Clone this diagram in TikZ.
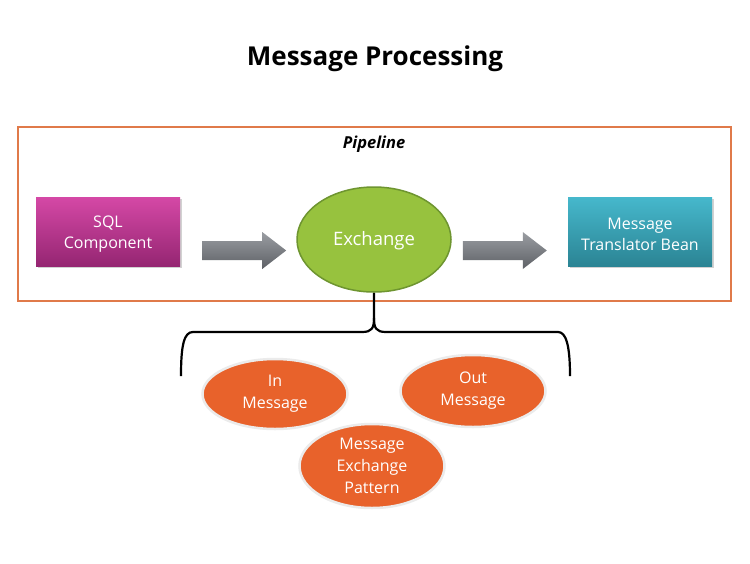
\documentclass[tikz,border=0pt]{standalone}
\usepackage{fontspec}
\setmainfont{Open Sans}
\usetikzlibrary{shapes.geometric,shadows}
\definecolor{pipe}{HTML}{E07A4A}
\definecolor{sqltop}{HTML}{D548A6}
\definecolor{sqlbot}{HTML}{952672}
\definecolor{tealtop}{HTML}{46B8CC}
\definecolor{tealbot}{HTML}{2B8494}
\definecolor{exfill}{HTML}{97C23E}
\definecolor{exdraw}{HTML}{6E9530}
\definecolor{orfill}{HTML}{E8622B}
\definecolor{artop}{HTML}{9A9DA2}
\definecolor{arbot}{HTML}{5E6166}
\tikzset{
  x=1pt,y=-1pt,
  boxnode/.style={rectangle,minimum width=144pt,minimum height=69pt,text=white,
    font=\fontsize{16}{21}\selectfont,align=center,inner sep=0pt,
    drop shadow={shadow xshift=1.5pt,shadow yshift=-2pt,opacity=0.35}},
  ovalnode/.style={ellipse,fill=orfill,draw=black!8,line width=2.5pt,text=white,
    font=\fontsize{16}{22}\selectfont,align=center,inner sep=0pt,
    minimum width=145pt},
  blockarrow/.style={top color=artop,bottom color=arbot,draw=none},
  bracestyle/.style={draw=black,line width=2.2pt}
}
\begin{document}
\begin{tikzpicture}
\useasboundingbox (0,0) rectangle (750,563);
\fill[white] (0,0) rectangle (750,563);
\node[font=\fontsize{26}{30}\selectfont\bfseries] (title) at (375,59) {Message Processing};
\node[draw=pipe,line width=2pt,minimum width=713pt,minimum height=174pt,inner sep=0pt] (pipeline) at (374.5,214) {};
\node[font=\fontsize{16.5}{20}\selectfont\bfseries\itshape] (plabel) at (374,144.5) {Pipeline};
\node[boxnode,top color=sqltop,bottom color=sqlbot] (sql) at (108,231.5) {};
\node[text=white,font=\fontsize{16}{21}\selectfont,align=center] (sqltext) at (108,234) {SQL\\Component};
\node[boxnode,top color=tealtop,bottom color=tealbot] (bean) at (640,231.5) {};
\node[text=white,font=\fontsize{16}{21}\selectfont,align=center] (beantext) at (640,234) {Message\\Translator Bean};
\node[ellipse,fill=exfill,draw=exdraw,line width=1.5pt,minimum width=154pt,minimum height=105pt,
  inner sep=0pt] (ex) at (374,239.5) {};
\node[text=white,font=\fontsize{18.5}{22}\selectfont] (extext) at (374,241) {Exchange};
% block arrows
\path[blockarrow] ([xshift=22pt,yshift=-9.5pt]sql.east) -- ++(60,0) -- ++(0,-9) -- ++(24,18.5) -- ++(-24,18.5) -- ++(0,-9) -- ++(-60,0) -- cycle;
\path[blockarrow] ([xshift=-105pt,yshift=-9.5pt]bean.west) -- ++(60,0) -- ++(0,-9) -- ++(24,18.5) -- ++(-24,18.5) -- ++(0,-9) -- ++(-60,0) -- cycle;
% ovals
\node[ovalnode,minimum height=70pt] (inmsg) at (275,394) {In\\Message};
\node[ovalnode,minimum height=72pt] (outmsg) at (473,391) {Out\\Message};
\node[ovalnode,minimum height=84pt] (mep) at (372,466) {Message\\Exchange\\Pattern};
% brace
\coordinate (bl) at (181,376);
\coordinate (br) at (570,376);
\draw[bracestyle] (ex.south) -- (374,318) .. controls (374,328) and (372,332) .. (362,332)
  -- (193,332) .. controls (184,332) and (181,345) .. (bl);
\draw[bracestyle] (374,318) .. controls (374,328) and (376,332) .. (386,332)
  -- (558,332) .. controls (566,332) and (570,345) .. (br);
\end{tikzpicture}
\end{document}
